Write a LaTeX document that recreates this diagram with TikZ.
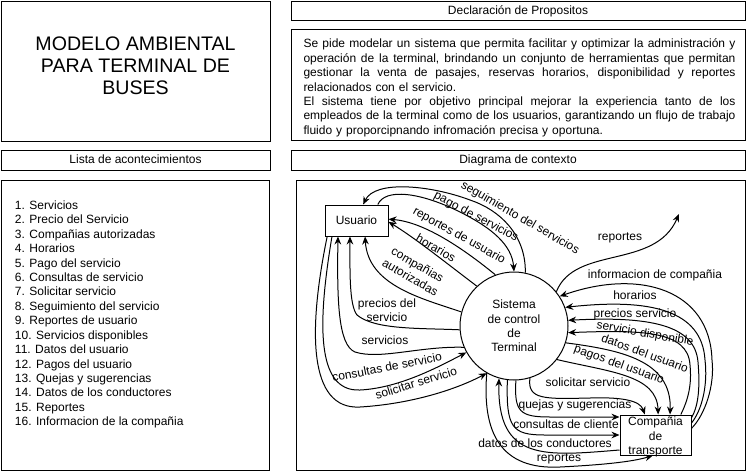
\documentclass[tikz,border=0pt]{standalone}
\usepackage{fontspec}
\setmainfont{Liberation Sans}
\usetikzlibrary{arrows.meta, positioning}

\newcommand{\jline}[1]{{\spaceskip=0pt\xspaceskip=0pt\makebox[324pt][s]{#1}}}

\begin{document}
\begin{tikzpicture}[
    x=0.75pt, y=-0.75pt, line width=0.75pt,
    >={Stealth[length=6pt, width=5pt, inset=2pt]},
    txt/.style={font=\fontsize{9}{10.8}\selectfont, inner sep=0pt, align=center},
    entity/.style={draw, rectangle, inner sep=0pt},
    process/.style={draw, circle, inner sep=0pt, minimum size=81pt},
    flow/.style={->}
]
    \useasboundingbox (0,0) rectangle (747,472);

    % panels
    \draw (1,1) rectangle (270,141);
    \draw (291,1) rectangle (745,20);
    \draw (291,29) rectangle (745,140);
    \draw (1,150) rectangle (270,170);
    \draw (291,150) rectangle (745,170);
    \draw (1,180) rectangle (269,470);
    \draw (296,180) rectangle (745,470);

    \node[txt, font=\fontsize{14.7}{16.5}\selectfont] (title) at (135.5,66)
        {MODELO AMBIENTAL\\PARA TERMINAL DE\\BUSES};
    \node[txt, anchor=base] (decl) at (518,14.3) {Declaración de Propositos};
    \node[txt, anchor=base] (lista) at (135.5,163.5) {Lista de acontecimientos};
    \node[txt, anchor=base] (diag) at (518,163.5) {Diagrama de contexto};

    \node[txt, align=left, text width=324pt, anchor=north west] (purpose) at (303,38.5) {%
        \jline{Se pide modelar un sistema que permita facilitar y optimizar la administración y}\\
        \jline{operación de la terminal, brindando un conjunto de herramientas que permitan}\\
        \jline{gestionar la venta de pasajes, reservas horarios, disponibilidad y reportes}\\
        relacionados con el servicio.\\
        \jline{El sistema tiene por objetivo principal mejorar la experiencia tanto de los}\\
        \jline{empleados de la terminal como de los usuarios, garantizando un flujo de trabajo}\\
        fluido y proporcipnando infromación precisa y oportuna.};

    % lista de acontecimientos
    \foreach \n/\ev in {1/Servicios, 2/Precio del Servicio, 3/Compañias autorizadas,
        4/Horarios, 5/Pago del servicio, 6/Consultas de servicio, 7/Solicitar servicio,
        8/Seguimiento del servicio, 9/Reportes de usuario, 10/Servicios disponibles,
        11/Datos del usuario, 12/Pagos del usuario, 13/Quejas y sugerencias,
        14/Datos de los conductores, 15/Reportes, 16/Informacion de la compañia}
        \node[txt, anchor=base west] (ev\n) at (14.5, {209.3+14.43*(\n-1)}) {\n. \ev};

    % diagrama de contexto
    \node[txt, entity, minimum width=47.25pt, minimum height=23.25pt] (usr) at (356.5,220.5) {Usuario};
    \node[txt, process] (sys) at (514,326) {Sistema\\de control\\de\\Terminal};
    \node[entity, minimum width=53.25pt, minimum height=30pt] (comp) at (655.5,435) {};
    \node[txt] (comptxt) at (655.5,437) {Compañia\\de\\transporte};
    \coordinate (repout) at (679,214);

    % usuario
    \draw[flow] (sys.78) .. controls (526,235) and (500,210) .. (470,200)
        .. controls (430,185) and (375,180) .. ([xshift=5pt]usr.north);
    \draw[flow] ([xshift=16pt]usr.north) .. controls (385,188) and (420,192) .. (460,212)
        .. controls (492,228) and (512,245) .. (sys.90);
    \draw[flow] (sys.110) .. controls (465,250) and (425,222) .. ([yshift=1pt]usr.east);
    \draw[flow] (sys.133) .. controls (445,262) and (415,238) .. ([yshift=-1pt]usr.east);
    \draw[flow] (sys.165) .. controls (420,298) and (368,285) .. ([xshift=6.4pt]usr.south);
    \draw[flow] (sys.184) .. controls (420,328) and (375,330) .. (357,315)
        .. controls (349,305) and (350,270) .. ([xshift=-4.9pt]usr.south);
    \draw[flow] (sys.203) .. controls (420,346) and (380,360) .. (355,352)
        .. controls (338,345) and (337,300) .. ([xshift=-13.9pt]usr.south);
    \draw[flow] ([xshift=-18.4pt]usr.south) .. controls (318,320) and (315,392) .. (360,390)
        .. controls (400,388) and (440,366) .. (sys.209);
    \draw[flow] ([xshift=-22pt]usr.south) .. controls (308,330) and (308,410) .. (360,407)
        .. controls (410,404) and (455,390) .. (sys.240);

    % compania
    \draw[flow] (sys.39) .. controls (575,245) and (655,270) .. (repout);
    \draw[flow] ([yshift=5pt]comp.east) .. controls (705,415) and (715,385) .. (712,360)
        .. controls (710,290) and (640,268) .. (sys.33);
    \draw[flow] ([yshift=9pt]comp.east) .. controls (702,410) and (708,385) .. (705,360)
        .. controls (702,310) and (650,298) .. (sys.20);
    \draw[flow] ([yshift=13pt]comp.east) .. controls (699,405) and (700,385) .. (698,362)
        .. controls (695,325) and (650,316) .. (sys.6);
    \draw[flow] ([xshift=19pt]comp.north) .. controls (688,400) and (692,385) .. (690,365)
        .. controls (688,330) and (640,330) .. (sys.353);
    \draw[flow] (sys.342) .. controls (620,350) and (672,360) .. ([xshift=10.9pt]comp.north);
    \draw[flow] (sys.322) .. controls (610,372) and (657,375) .. ([xshift=2pt]comp.north);
    \draw[flow] (sys.287) .. controls (527,400) and (545,399) .. (590,398)
        .. controls (620,397) and (640,400) .. ([xshift=-8pt]comp.north);
    \draw[flow] (sys.272) .. controls (514,412) and (520,417) .. (550,417) -- ([yshift=13.5pt]comp.west);
    \draw[flow] (sys.263) .. controls (506,428) and (512,435) .. (545,435) -- (comp.west);
    \draw[flow] ([yshift=-11.25pt]comp.west) .. controls (545,456) and (497,462) .. (sys.254);
    \draw[flow] (sys.240) .. controls (482,432) and (500,470) .. (560,467)
        .. controls (600,465) and (632,462) .. ([xshift=-2pt]comp.south);

    % labels
    \node[txt, rotate=-30] (lseg) at (520,218) {seguimiento del servicios};
    \node[txt, rotate=-28] (lpago) at (476,217) {pago de servicios};
    \node[txt, rotate=-29] (lrepu) at (459,236) {reportes de usuario};
    \node[txt, rotate=-30] (lhor) at (436,248) {horarios};
    \node[txt, rotate=-30] (lcomp) at (414,271) {compañias\\autorizadas};
    \node[txt] (lprec) at (387,310) {precios del\\servicio};
    \node[txt] (lserv) at (385,340) {servicios};
    \node[txt, rotate=11] (lcons) at (387,367) {consultas de servicio};
    \node[txt, rotate=17] (lsol) at (416,383) {solicitar servicio};
    \node[txt] (lrep) at (620,238) {reportes};
    \node[txt] (linfo) at (655,275) {informacion de compañia};
    \node[txt] (lhor2) at (635,295) {horarios};
    \node[txt] (lprec2) at (635,314) {precios servicio};
    \node[txt, rotate=-10] (ldisp) at (645,334) {servicio disponible};
    \node[txt, rotate=-20] (ldat) at (645,353) {datos del usuario};
    \node[txt, rotate=-20] (lpag) at (619,365) {pagos del usuario};
    \node[txt] (lsol2) at (588,382) {solicitar servicio};
    \node[txt] (lquej) at (575,405) {quejas y sugerencias};
    \node[txt] (lconsc) at (566,424) {consultas de cliente};
    \node[txt] (lcond) at (545,443) {datos de los conductores};
    \node[txt] (lrep2) at (559,459) {reportes};
\end{tikzpicture}
\end{document}
